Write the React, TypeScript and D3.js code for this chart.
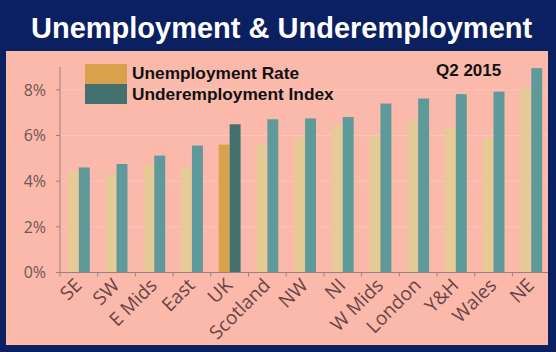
import { useEffect, useRef } from "react";
import * as d3 from "d3";

const regions = ["SE", "SW", "E Mids", "East", "UK", "Scotland", "NW", "NI", "W Mids", "London", "Y&H", "Wales", "NE"];
const unemploymentRate = [4.45, 4.3, 4.68, 4.6, 5.6, 5.6, 5.96, 6.45, 5.96, 6.67, 6.37, 5.89, 8.07];
const underemploymentIndex = [4.6, 4.75, 5.12, 5.56, 6.49, 6.71, 6.75, 6.81, 7.4, 7.62, 7.81, 7.92, 8.95];
const yTicks = [0, 2, 4, 6, 8];
const seriesNames = ["Unemployment Rate", "Underemployment Index"];

const NAVY = "#0b2061";
const PINK = "#fbb9ac";
const TAN = "#e6cb96";
const TEAL = "#5e9a9a";
const UK_ORANGE = "#d9a14c";
const UK_TEAL = "#41706f";

export default function App() {
  const svgRef = useRef<SVGSVGElement | null>(null);

  useEffect(() => {
    const width = 556;
    const height = 352;
    const panel = { x: 6, y: 51, w: 542, h: 294 };
    const plot = { left: 60, bottom: 272.5, top: 67 };
    const step = 37.7;

    const svg = d3.select(svgRef.current).attr("width", width).attr("height", height).html("");

    svg.append("rect").attr("width", width).attr("height", height).attr("fill", NAVY);

    svg
      .append("text")
      .attr("x", 31)
      .attr("y", 38)
      .attr("font-family", "Liberation Sans, Arial, sans-serif")
      .attr("font-weight", "bold")
      .attr("font-size", 29)
      .attr("fill", "white")
      .text("Unemployment & Underemployment");

    svg
      .append("defs")
      .append("clipPath")
      .attr("id", "panel-clip")
      .append("rect")
      .attr("x", panel.x)
      .attr("y", panel.y)
      .attr("width", panel.w)
      .attr("height", panel.h);

    const g = svg.append("g").attr("clip-path", "url(#panel-clip)");
    g.append("rect")
      .attr("x", panel.x)
      .attr("y", panel.y)
      .attr("width", panel.w)
      .attr("height", panel.h)
      .attr("fill", PINK);

    const x = d3
      .scaleBand<string>()
      .domain(regions)
      .range([plot.left, plot.left + step * regions.length])
      .padding(0);
    const bw = x.bandwidth();
    const xInner = d3
      .scaleBand<number>()
      .domain([0, 1])
      .range([bw * 0.21, bw * 0.79])
      .padding(0);
    const y = d3.scaleLinear().domain([0, 9]).range([plot.bottom, plot.top]);

    // faint gridlines
    g.selectAll("line.grid")
      .data(yTicks.filter((t) => t > 0))
      .join("line")
      .attr("x1", plot.left)
      .attr("x2", panel.x + panel.w)
      .attr("y1", (d) => y(d))
      .attr("y2", (d) => y(d))
      .attr("stroke", "#fcc5b9")
      .attr("stroke-width", 1);

    const groups = g
      .selectAll("g.cat")
      .data(regions)
      .join("g")
      .attr("transform", (d) => `translate(${x(d)},0)`);

    groups
      .append("rect")
      .attr("x", xInner(0)!)
      .attr("width", xInner.bandwidth())
      .attr("y", (_, i) => y(unemploymentRate[i]))
      .attr("height", (_, i) => y(0) - y(unemploymentRate[i]))
      .attr("fill", (d) => (d === "UK" ? UK_ORANGE : TAN));

    groups
      .append("rect")
      .attr("x", xInner(1)!)
      .attr("width", xInner.bandwidth())
      .attr("y", (_, i) => y(underemploymentIndex[i]))
      .attr("height", (_, i) => y(0) - y(underemploymentIndex[i]))
      .attr("fill", (d) => (d === "UK" ? UK_TEAL : TEAL));

    const axisColor = "#9b8080";
    // y axis
    g.append("line")
      .attr("x1", plot.left)
      .attr("x2", plot.left)
      .attr("y1", plot.top)
      .attr("y2", plot.bottom)
      .attr("stroke", axisColor);
    g.selectAll("line.ytick")
      .data(yTicks)
      .join("line")
      .attr("x1", plot.left - 4)
      .attr("x2", plot.left)
      .attr("y1", (d) => y(d))
      .attr("y2", (d) => y(d))
      .attr("stroke", axisColor);
    g.selectAll("text.ylab")
      .data(yTicks)
      .join("text")
      .attr("x", 46)
      .attr("y", (d) => y(d))
      .attr("dy", "0.36em")
      .attr("text-anchor", "end")
      .attr("font-family", "Open Sans, sans-serif")
      .attr("font-size", 16)
      .attr("fill", "#6e5555")
      .text((d) => `${d}%`);

    // x axis
    g.append("line")
      .attr("x1", plot.left)
      .attr("x2", plot.left + step * regions.length)
      .attr("y1", plot.bottom)
      .attr("y2", plot.bottom)
      .attr("stroke", axisColor);
    g.selectAll("line.xtick")
      .data(d3.range(regions.length + 1))
      .join("line")
      .attr("x1", (i) => plot.left + i * bw)
      .attr("x2", (i) => plot.left + i * bw)
      .attr("y1", plot.bottom)
      .attr("y2", plot.bottom + 4)
      .attr("stroke", axisColor);
    g.selectAll("text.xlab")
      .data(regions)
      .join("text")
      .attr("transform", (d) => `translate(${x(d)! + bw / 2 + 4},${plot.bottom + 14}) rotate(-45)`)
      .attr("text-anchor", "end")
      .attr("font-family", "Open Sans, sans-serif")
      .attr("font-size", 19)
      .attr("fill", "#6a4545")
      .text((d) => d);

    // legend
    const legendColors = [UK_ORANGE, UK_TEAL];
    const legend = g.append("g").attr("transform", "translate(85,64)");
    legend
      .selectAll("rect")
      .data(seriesNames)
      .join("rect")
      .attr("x", 0)
      .attr("y", (_, i) => i * 20)
      .attr("width", 42)
      .attr("height", 20)
      .attr("fill", (_, i) => legendColors[i]);
    legend
      .selectAll("text")
      .data(seriesNames)
      .join("text")
      .attr("x", 47)
      .attr("y", (_, i) => 14.5 + i * 21)
      .attr("font-family", "Liberation Sans, Arial, sans-serif")
      .attr("font-weight", "bold")
      .attr("font-size", 17.3)
      .attr("fill", "#111")
      .text((d) => d);

    g.append("text")
      .attr("x", 436)
      .attr("y", 76)
      .attr("font-family", "Liberation Sans, Arial, sans-serif")
      .attr("font-weight", "bold")
      .attr("font-size", 17)
      .attr("fill", "#111")
      .text("Q2 2015");
  }, []);

  return <svg ref={svgRef} style={{ position: "absolute", left: 0, top: 0, display: "block" }}></svg>;
}
